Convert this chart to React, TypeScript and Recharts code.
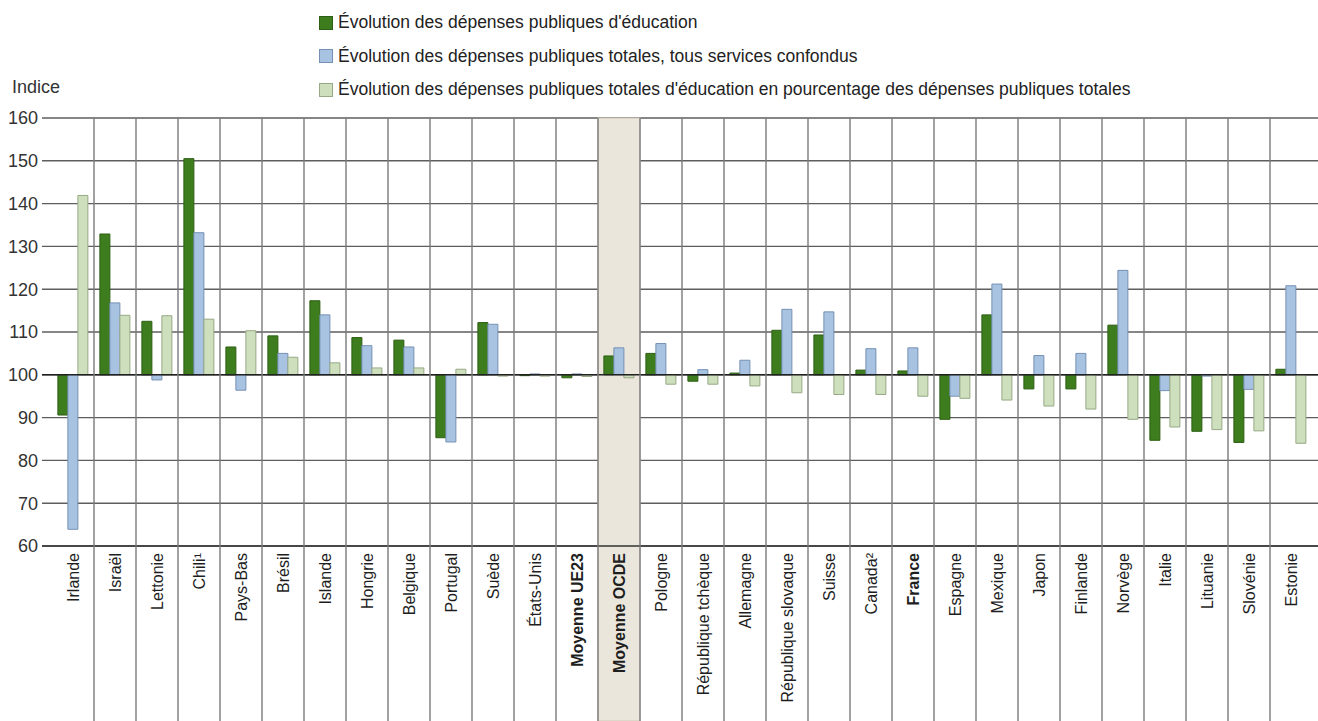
import React from 'react';
import { BarChart, Bar, XAxis, YAxis, CartesianGrid, ReferenceLine, ReferenceArea, Legend } from 'recharts';

const categories = [
  'Irlande', 'Israël', 'Lettonie', 'Chili¹', 'Pays-Bas', 'Brésil', 'Islande', 'Hongrie', 'Belgique', 'Portugal',
  'Suède', 'États-Unis', 'Moyenne UE23', 'Moyenne OCDE', 'Pologne', 'République tchèque', 'Allemagne',
  'République slovaque', 'Suisse', 'Canada²', 'France', 'Espagne', 'Mexique', 'Japon', 'Finlande', 'Norvège',
  'Italie', 'Lituanie', 'Slovénie', 'Estonie',
];

const eduSpending = [
  90.6, 132.9, 112.5, 150.5, 106.5, 109.1, 117.3, 108.7, 108.1, 85.3,
  112.2, 99.8, 99.3, 104.4, 105.0, 98.5, 100.4, 110.4, 109.3, 101.1,
  100.9, 89.6, 114.0, 96.7, 96.7, 111.6, 84.7, 86.8, 84.2, 101.3,
];

const totalSpending = [
  63.9, 116.8, 98.8, 133.2, 96.4, 105.0, 114.0, 106.8, 106.5, 84.3,
  111.8, 100.2, 100.2, 106.3, 107.3, 101.2, 103.4, 115.3, 114.7, 106.1,
  106.3, 95.0, 121.2, 104.5, 105.0, 124.4, 96.3, 99.7, 96.6, 120.8,
];

const eduShare = [
  141.9, 113.9, 113.8, 113.0, 110.3, 104.1, 102.8, 101.6, 101.6, 101.3,
  99.7, 99.7, 99.6, 99.3, 97.8, 97.8, 97.4, 95.8, 95.4, 95.4,
  95.0, 94.5, 94.1, 92.7, 92.0, 89.6, 87.8, 87.2, 86.9, 84.0,
];

const yTicks = [60, 70, 80, 90, 100, 110, 120, 130, 140, 150, 160];
const baseIndex = 100;
const highlighted = 'Moyenne OCDE';
const boldCategories = ['Moyenne UE23', 'Moyenne OCDE', 'France'];

const seriesNames = [
  "Évolution des dépenses publiques d'éducation",
  'Évolution des dépenses publiques totales, tous services confondus',
  "Évolution des dépenses publiques totales d'éducation en pourcentage des dépenses publiques totales",
];
const seriesFill = ['#3d7d1d', '#a8c3e2', '#cddfbd'];
const seriesStroke = ['#2c5f13', '#7690b3', '#97a985'];

const data = categories.map((name, i) => ({
  name,
  edu: eduSpending[i],
  total: totalSpending[i],
  share: eduShare[i],
}));

const W = 1318;
const H = 721;
const M_TOP = 118;
const Y_AXIS_W = 34;
const M_LEFT = 8;
const X_AXIS_H = 175;
const PAD_L = 10;
const PAD_R = 6;
const PLOT_W = W - M_LEFT - Y_AXIS_W;
const HALF_BAND = (PLOT_W - PAD_L - PAD_R) / categories.length / 2;

const XTick = (props: any) => {
  const { x, y, payload, index } = props;
  const bold = boldCategories.includes(payload.value);
  return (
    <g>
      {index > 0 && (
        <line x1={x - HALF_BAND} x2={x - HALF_BAND} y1={M_TOP} y2={H} stroke="#7a7a7a" strokeWidth={1.4} />
      )}
      <text
        x={x}
        y={y}
        transform={`rotate(-90, ${x}, ${y})`}
        textAnchor="end"
        dominantBaseline="central"
        fontFamily="'Liberation Sans', Arial, sans-serif"
        fontSize={16}
        fontWeight={bold ? 700 : 400}
        fill="#1e1e1e"
      >
        {payload.value}
      </text>
    </g>
  );
};

const ShadeShape = (props: any) => {
  const { x, y, width, height } = props;
  return <rect x={x} y={y} width={width} height={height + X_AXIS_H} fill="#ebe6dc" stroke="#cfc8b8" strokeWidth={1} />;
};

const LegendContent = () => (
  <div style={{ fontFamily: "'Liberation Sans', Arial, sans-serif", fontSize: 17.5, color: '#222' }}>
    {seriesNames.map((n, i) => (
      <div key={n} style={{ display: 'flex', alignItems: 'center', height: 33.5 }}>
        <span
          style={{
            display: 'inline-block',
            width: 12,
            height: 12,
            background: seriesFill[i],
            border: `1px solid ${seriesStroke[i]}`,
            marginRight: 5,
          }}
        />
        <span style={{ whiteSpace: 'nowrap' }}>{n}</span>
      </div>
    ))}
  </div>
);

export default function App() {
  return (
    <div style={{ position: 'absolute', left: 0, top: 0, width: W, height: H, background: '#fff' }}>
      <div
        style={{
          position: 'absolute',
          left: 12,
          top: 77,
          fontFamily: "'Liberation Sans Narrow', 'Arial Narrow', 'Liberation Sans', sans-serif",
          fontSize: 18,
          color: '#333',
        }}
      >
        Indice
      </div>
      <BarChart
        width={W}
        height={H}
        data={data}
        margin={{ top: M_TOP, right: 0, bottom: 0, left: M_LEFT }}
        barCategoryGap="14%"
        barGap={0}
      >
        <ReferenceArea x1={highlighted} x2={highlighted} shape={ShadeShape} ifOverflow="visible" />
        <CartesianGrid vertical={false} stroke="#5e5e5e" strokeWidth={1.4} />
        <XAxis
          dataKey="name"
          interval={0}
          height={X_AXIS_H}
          padding={{ left: PAD_L, right: PAD_R }}
          tickLine={false}
          tickSize={0}
          tickMargin={7}
          axisLine={{ stroke: '#333', strokeWidth: 1.6 }}
          tick={<XTick />}
        />
        <YAxis
          width={Y_AXIS_W}
          domain={[60, 160]}
          ticks={yTicks}
          allowDataOverflow
          axisLine={false}
          tickLine={false}
          tickSize={0}
          tickMargin={4}
          tick={{ fill: '#333', fontSize: 18, fontFamily: "'Liberation Sans Narrow', 'Arial Narrow', 'Liberation Sans', sans-serif" }}
        />
        <Legend
          layout="vertical"
          align="center"
          verticalAlign="middle"
          content={<LegendContent />}
          wrapperStyle={{ position: 'absolute', top: 6, left: 319, width: 'auto', height: 'auto' }}
        />
        <Bar
          dataKey={(d: any) => [baseIndex, d.edu]}
          name={seriesNames[0]}
          fill={seriesFill[0]}
          stroke={seriesStroke[0]}
          strokeWidth={1}
          isAnimationActive={false}
        />
        <Bar
          dataKey={(d: any) => [baseIndex, d.total]}
          name={seriesNames[1]}
          fill={seriesFill[1]}
          stroke={seriesStroke[1]}
          strokeWidth={1}
          isAnimationActive={false}
        />
        <Bar
          dataKey={(d: any) => [baseIndex, d.share]}
          name={seriesNames[2]}
          fill={seriesFill[2]}
          stroke={seriesStroke[2]}
          strokeWidth={1}
          isAnimationActive={false}
        />
        <ReferenceLine y={baseIndex} stroke="#222" strokeWidth={1.6} />
      </BarChart>
    </div>
  );
}
